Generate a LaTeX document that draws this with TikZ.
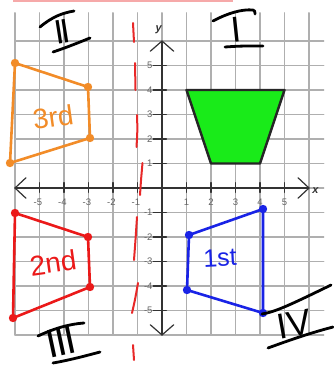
\documentclass[tikz,border=0pt]{standalone}
\usepackage{fontspec}
\setmainfont{Liberation Sans}
\definecolor{cthird}{RGB}{242,140,40}
\definecolor{csecond}{RGB}{235,25,25}
\definecolor{cfirst}{RGB}{25,35,230}
\definecolor{cdash}{RGB}{232,40,40}
\definecolor{cgreen}{RGB}{25,235,25}
\definecolor{cgrid}{RGB}{175,175,175}
\definecolor{ctick}{RGB}{100,100,100}
\begin{document}
\begin{tikzpicture}[x=1pt,y=-1pt,line join=round,line cap=round,
  gridline/.style={draw=cgrid,line width=1.3pt},
  axisline/.style={draw=black!80,line width=1.2pt},
  ticklab/.style={font=\fontsize{9.5}{9.5}\selectfont,text=ctick,inner sep=0pt},
  axlab/.style={font=\fontsize{11}{11}\selectfont\bfseries\itshape,text=black!80,inner sep=0pt},
  handpen/.style={draw=black,line width=2.8pt},
  numeral/.style={font=\fontsize{36}{36}\selectfont,inner sep=0pt},
  handtext/.style={font=\fontsize{28}{28}\selectfont,inner sep=0pt},
  outline/.style={line width=2.6pt},
  dashseg/.style={draw=cdash,line width=2pt}]
\useasboundingbox (0,0) rectangle (333,367);
\fill[white] (0,0) rectangle (333,367);
\fill[cdash!40] (13,0) rectangle (233,1.6);

\begin{scope}[shift={(162,188)},x=24.5pt,y=24.5pt]
  \foreach \i in {-6,...,6} \draw[gridline] (\i,-6) -- (\i,7.15);
  \foreach \j in {-6,...,6} \draw[gridline] (-6,\j) -- (6.6,\j);
  % green trapezoid
  \coordinate (G1) at (1,4);
  \coordinate (G2) at (5,4);
  \coordinate (G3) at (4,1);
  \coordinate (G4) at (2,1);
  \filldraw[fill=cgreen,draw=black!85,line width=2.4pt] (G1) -- (G2) -- (G3) -- (G4) -- cycle;
  % axes
  \draw[axisline] (-6,0) -- (6,0);
  \draw[axisline] (0,-6) -- (0,6);
  \draw[axisline] (-5.55,0.42) -- (-6,0) -- (-5.55,-0.42);
  \draw[axisline] (5.55,0.42) -- (6,0) -- (5.55,-0.42);
  \draw[axisline] (-0.48,5.58) -- (0,6) -- (0.48,5.58);
  \draw[axisline] (-0.48,-5.58) -- (0,-6) -- (0.48,-5.58);
  \foreach \i in {-5,...,-1,1,2,3,4,5} {
    \draw[axisline] (\i,0.22) -- (\i,-0.18);
    \draw[axisline] (-0.36,\i) -- (0.18,\i);
  }
  \foreach \i in {1,...,5} {
    \node[ticklab,anchor=north] (xlp\i) at (\i,-0.42) {\i};
    \node[ticklab,anchor=north] (xln\i) at (-\i,-0.42) {\llap{-}\i};
    \node[ticklab,anchor=east] (ylp\i) at (-0.38,\i) {\i};
    \node[ticklab,anchor=east] (yln\i) at (-0.38,-\i) {-\i};
  }
  \node[axlab] (xlab) at (6.26,-0.1) {x};
  \node[axlab] (ylab) at (-0.14,6.45) {y};
\end{scope}

% red dashed reflection line
\draw[dashseg] (133,23) -- (134,42);
\draw[dashseg] (135,63) -- (135.5,90);
\draw[dashseg] (137,115) .. controls (137.5,130) .. (136.5,147);
\draw[dashseg] (142.5,163) .. controls (141,180) .. (140,195);
\draw[dashseg] (137,217) .. controls (135.5,240) .. (134,260);
\draw[dashseg] (138,283) .. controls (135,300) .. (132,313);
\draw[dashseg] (133,345) -- (134,360);

% 3rd (orange)
\coordinate (O1) at (15,63);
\coordinate (O2) at (88,87);
\coordinate (O3) at (90,138);
\coordinate (O4) at (10,163);
\draw[cthird,outline] (O1) -- (O2) -- (O3) -- (O4) -- cycle;
\foreach \p in {O1,O2,O3,O4} \fill[cthird] (\p) circle (4.2);
\node[handtext,text=cthird,rotate=8] (t3) at (53,117) {3rd};

% 2nd (red)
\coordinate (R1) at (15,213);
\coordinate (R2) at (88,237);
\coordinate (R3) at (90,287);
\coordinate (R4) at (13,318);
\draw[csecond,outline] (R1) -- (R2) -- (R3) -- (R4) -- cycle;
\foreach \p in {R1,R2,R3,R4} \fill[csecond] (\p) circle (4.2);
\node[handtext,text=csecond,rotate=8] (t2) at (53,263) {2nd};

% 1st (blue)
\coordinate (B1) at (263,209);
\coordinate (B2) at (189,235);
\coordinate (B3) at (187,290);
\coordinate (B4) at (263,313);
\draw[cfirst,outline] (B1) -- (B2) -- (B3) -- (B4) -- cycle;
\foreach \p in {B1,B2,B3,B4} \fill[cfirst] (\p) circle (4.2);
\node[handtext,text=cfirst,rotate=3,font=\fontsize{25}{25}\selectfont] (t1) at (220,258) {1st};

% quadrant numerals
\node[numeral,rotate=6] (n1) at (236.5,30) {I};
\draw[handpen] (213,21) .. controls (228,13) and (242,9) .. (253,10) .. controls (255,11) .. (255,14);
\draw[handpen] (225,47) .. controls (240,46) .. (263,46);

\node[numeral,rotate=9,font=\fontsize{34}{34}\selectfont] (n2) at (62.5,31.5) {I\kern-3ptI};
\draw[handpen] (40,27) .. controls (52,17) and (62,13) .. (74,11);
\draw[handpen] (53,52) .. controls (68,47) and (80,42) .. (90,38);

\node[numeral,rotate=12,font=\fontsize{40}{40}\selectfont] (n3) at (61,342) {I\kern-1.5ptI\kern-1.5ptI};
\draw[handpen] (38,336) .. controls (55,328) and (70,324) .. (84,323);
\draw[handpen] (53,363) .. controls (70,360) and (85,356) .. (100,352);

\node[numeral,rotate=10,font=\fontsize{36}{36}\selectfont] (n4) at (294,324) {IV};
\draw[handpen] (262,314) .. controls (275,312) and (290,305) .. (331,285);
\draw[handpen] (268,348) .. controls (290,340) and (310,333) .. (333,327);
\end{tikzpicture}
\end{document}
